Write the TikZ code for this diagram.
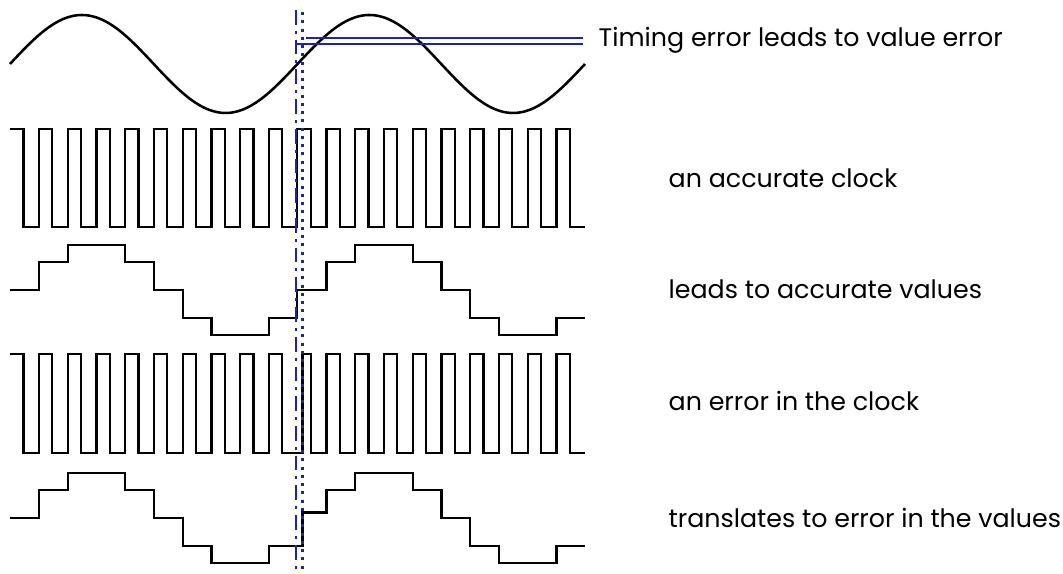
\documentclass[tikz,border=0pt]{standalone}
\usepackage{fontspec}
\setsansfont{Poppins}
\usepackage{tikz}
\usetikzlibrary{positioning}
\definecolor{markBlue}{RGB}{35,35,160}
\tikzset{
  wave/.style={draw=black, line width=0.62pt, line join=miter},
  sineWave/.style={draw=black, line width=0.72pt},
  timeMark/.style={draw=markBlue, line width=0.6pt, dash pattern=on 4.2pt off 1.7pt on 0.85pt off 1.7pt},
  lateMark/.style={draw=markBlue, line width=0.6pt, dash pattern=on 0.85pt off 1.5pt},
  levelMark/.style={draw=markBlue, line width=0.45pt},
  rowText/.style={anchor=west, inner sep=0pt}
}
\begin{document}
\begin{tikzpicture}[x=0.01cm, y=-0.01cm, font={\sffamily\fontsize{7.2}{8.5}\selectfont}]
  \useasboundingbox (0,0) rectangle (1063,574);
  \draw[sineWave] plot[domain=10:585, samples=200, smooth] (\x,{64-49*sin(1.25217*(\x-10))});
  \foreach \yt/\yb/\riseAt in {129/227/297, 354/453/302.5}
    \draw[wave] (10,\yt) \foreach \k [evaluate=\k as \r using {\k==9 ? \riseAt : 39+28.75*\k}] in {0,...,18}
      { -- ({23.5+28.75*\k},\yt) -- ({23.5+28.75*\k},\yb) -- (\r,\yb) -- (\r,\yt) } -- (570,\yt) -- (570,\yb) -- (585,\yb);
  \foreach \c/\riseAt/\lag in {290/297/0, 518/302.5/6.6}
    \draw[wave] (10,\c) \foreach \k [evaluate=\k as \r using {\k==9 ? \riseAt : 39+28.75*\k},
                                     evaluate=\k as \ph using {\k==9 ? 360+\lag : 36*(\k+1)}] in {0,...,18}
      { -| (\r,{\c-47*sin(\ph)}) } -- ++(28.5,0);
  \draw[timeMark] (296,10) -- (296,574);
  \draw[lateMark] (302.5,12) -- (302.5,574);
  \draw[levelMark] (306,38) -- (583,38);
  \draw[levelMark] (296,50) -- (296,44) -- (583,44);
  \node[rowText] (lblTiming) at (598,40) {Timing error leads to value error};
  \node[rowText] (lblClockOk) at (668,178) {an accurate clock};
  \node[rowText] (lblValuesOk) at (668,289) {leads to accurate values};
  \node[rowText] (lblClockBad) at (668,401) {an error in the clock};
  \node[rowText] (lblValuesBad) at (668,518) {translates to error in the values};
\end{tikzpicture}
\end{document}
